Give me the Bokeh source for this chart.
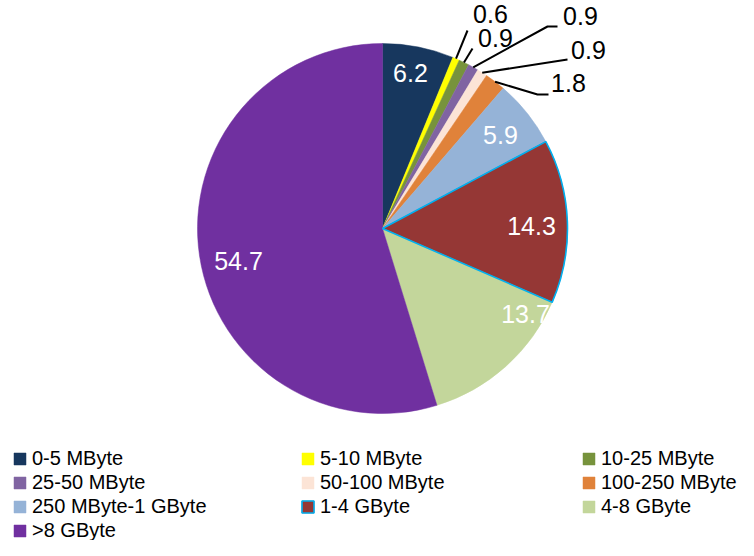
import math
from bokeh.plotting import figure
from bokeh.models import ColumnDataSource, Range1d, Legend, LegendItem
from bokeh.core.properties import value
from bokeh.embed import file_html
from bokeh.resources import INLINE

# ---------------- data ----------------
categories = ["0-5 MByte", "5-10 MByte", "10-25 MByte", "25-50 MByte", "50-100 MByte",
              "100-250 MByte", "250 MByte-1 GByte", "1-4 GByte", "4-8 GByte", ">8 GByte"]
shares = [6.2, 0.6, 0.9, 0.9, 0.9, 1.8, 5.9, 14.3, 13.7, 54.7]
labels = ["6.2", "0.6", "0.9", "0.9", "0.9", "1.8", "5.9", "14.3", "13.7", "54.7"]
colors = ["#17375E", "#FFFF00", "#77933C", "#8064A2", "#FCE4D6",
          "#E0823A", "#95B3D7", "#953735", "#C3D69B", "#7030A0"]
highlight = [False, False, False, False, False, False, False, True, False, False]
legend_columns = [[0, 3, 6, 9], [1, 4, 7], [2, 5, 8]]

# ---------------- layout (screen px, top-down) ----------------
W, H = 738, 540
CX, CY, R = 382, 228, 185
label_pos = [(410, 72), (490, 13), (495, 37), (580, 15), (588, 49),
             (568, 82), (500, 134), (531, 225), (525, 313), (238, 260)]
label_inside = [True, False, False, False, False, False, True, True, True, True]
leader_tail = {1: [(467, 30)], 2: [(472, 48)], 3: [(547, 26), (557, 26)],
               4: [(567, 59)], 5: [(537, 94), (548, 94)]}
legend_x = [12, 300, 581]
legend_bottom = [-2, 22, 22]

def Y(fy):
    return H - fy

total = sum(shares)
starts, ends, mids = [], [], []
cum = 0.0
for s in shares:
    a0 = math.pi / 2 - 2 * math.pi * cum / total
    cum += s
    a1 = math.pi / 2 - 2 * math.pi * cum / total
    starts.append(a0)
    ends.append(a1)
    mids.append((a0 + a1) / 2)

src = ColumnDataSource(dict(
    x=[CX] * len(shares), y=[Y(CY)] * len(shares),
    start=starts, end=ends, color=colors, cat=categories,
    edge=["#00B0F0" if h else "#FFFFFF" for h in highlight],
    edge_alpha=[1.0 if h else 0.0 for h in highlight],
))

p = figure(width=W, height=H, output_backend="svg", toolbar_location=None,
           x_range=Range1d(0, W), y_range=Range1d(0, H), min_border=0)
p.axis.visible = False
p.grid.visible = False
p.outline_line_color = None
p.background_fill_color = "white"
p.border_fill_color = "white"

r_fill = p.wedge(x="x", y="y", radius=R, radius_units="screen", start_angle="start",
                 end_angle="end", direction="clock", fill_color="color",
                 line_color="color", line_width=0.5, source=src)
r_edge = p.wedge(x="x", y="y", radius=R, radius_units="screen", start_angle="start",
                 end_angle="end", direction="clock", fill_alpha=0,
                 line_color="edge", line_alpha="edge_alpha", line_width=1.6, source=src)

# leader lines
xs, ys = [], []
for i, tail in leader_tail.items():
    sx = CX + R * math.cos(mids[i])
    sy = Y(CY) + R * math.sin(mids[i])
    xs.append([sx] + [t[0] for t in tail])
    ys.append([sy] + [Y(t[1]) for t in tail])
p.multi_line(xs=xs, ys=ys, line_color="black", line_width=2)

# data labels
lab_src = ColumnDataSource(dict(
    x=[q[0] for q in label_pos], y=[Y(q[1]) for q in label_pos], text=labels,
    color=["white" if ins else "black" for ins in label_inside],
))
p.text(x="x", y="y", text="text", text_color="color", source=lab_src,
       text_font=value("Liberation Sans"), text_font_size=value("25px"),
       text_align="center", text_baseline="middle")

# legends
for col, lx, lb in zip(legend_columns, legend_x, legend_bottom):
    items = [LegendItem(label=categories[i], renderers=[r_fill, r_edge], index=i) for i in col]
    lg = Legend(items=items, location=(lx, lb), orientation="vertical",
                glyph_width=15, glyph_height=15, label_standoff=5, spacing=0,
                padding=0, margin=0, border_line_alpha=0, background_fill_alpha=0,
                label_text_font="Liberation Sans", label_text_font_size="20px",
                label_text_color="black", label_height=24)
    p.add_layout(lg)

open("out.html", "w").write(file_html(p, INLINE))
